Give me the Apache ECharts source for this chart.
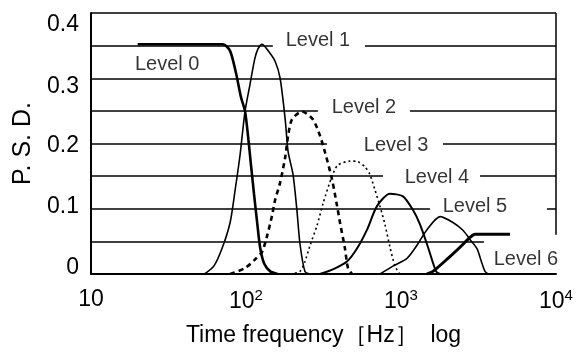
<!DOCTYPE html>
<html>
<head>
<meta charset="utf-8">
<script src="https://cdn.jsdelivr.net/npm/echarts@6/dist/echarts.min.js"></script>
<style>html,body{margin:0;padding:0;background:#fff}#c{width:577px;height:352px}</style>
</head>
<body>
<div id="c"></div>
<script>
// ---- data (frequency Hz, P.S.D.) ----
var level0 = [[20,0.352],[71,0.352],[78.9,0.342],[86.2,0.308],[92.8,0.271],[98.5,0.25],[103,0.212],[107.7,0.167],[112.6,0.123],[118,0.079],[123.3,0.041],[130.9,0.016],[143.4,0.004],[160,0]];
var level1 = [[54,0],[62,0.012],[70,0.039],[79,0.079],[85,0.128],[91.5,0.182],[98.5,0.249],[106,0.29],[114,0.33],[119.5,0.345],[127,0.352],[139,0.342],[154,0.326],[166,0.3],[179,0.237],[187,0.187],[201,0.153],[213,0.098],[223,0.046],[240,0.004],[259,0]];
var level2 = [[79,0],[98.5,0.009],[114,0.022],[127,0.034],[137,0.059],[147,0.089],[154,0.113],[166,0.14],[179,0.179],[187,0.212],[198,0.237],[230,0.249],[270,0.237],[300,0.212],[323,0.187],[359,0.145],[387,0.104],[404,0.079],[435,0.039],[455,0.009],[483,0]];
var level3 = [[192,0],[223,0.004],[240,0.019],[259,0.044],[287,0.074],[314,0.108],[359,0.15],[392,0.167],[469,0.173],[528,0.172],[586,0.164],[629,0.153],[677,0.13],[729,0.105],[788,0.076],[849,0.041],[915,0.012],[983,0]];
var level4 = [[300,0],[364,0.007],[448,0.019],[520,0.039],[604,0.068],[700,0.104],[849,0.123],[1030,0.119],[1195,0.098],[1326,0.076],[1494,0.041],[1683,0.004],[1786,0]];
var level5 = [[733,0],[887,0.012],[1093,0.024],[1268,0.044],[1471,0.068],[1786,0.088],[2163,0.079],[2510,0.067],[2786,0.053],[3092,0.039],[3333,0.016],[3484,0.004],[3640,0]];
var level6 = [[1471,0],[1607,0.004],[2010,0.024],[2403,0.041],[2786,0.056],[3000,0.061],[5050,0.061]];

var levelNames = ['Level 0','Level 1','Level 2','Level 3','Level 4','Level 5','Level 6'];
var labelFreq  = [31, 291, 577, 929, 1706, 2999, 6397];
var labelPsd   = [0.321, 0.358, 0.255, 0.197, 0.148, 0.104, 0.022];

// reference lines: [psd, fromHz, toHz]
var refLines = [
  [0.35, 10, 149], [0.35, 586, 10000],
  [0.30, 10, 10000],
  [0.25, 10, 291], [0.25, 1143, 10000],
  [0.20, 10, 333], [0.20, 1866, 10000],
  [0.15, 10, 765], [0.15, 3236, 10000],
  [0.10, 10, 1538], [0.10, 8750, 10000],
  [0.05, 10, 3428],
  [0.40, 10, 10000]
];
var rightBorder = [10000, 0.06, 0.40];

var xTicks = [10, 100, 1000, 10000];
var yTicks = [0, 0.1, 0.2, 0.3, 0.4];
var yTickText = ['0', '0.1', '0.2', '0.3', '0.4'];

var FONT = '"Liberation Sans", Arial, sans-serif';
var chart = echarts.init(document.getElementById('c'), null, {renderer: 'canvas'});

var markData = refLines.map(function (r) {
  return [{coord: [r[1], r[0]]}, {coord: [r[2], r[0]]}];
});
markData.push([{coord: [rightBorder[0], rightBorder[1]]}, {coord: [rightBorder[0], rightBorder[2]]}]);

// vertical nudges of the y tick labels (as in the scanned original)
var yShift = [-6, -2, 2, 8, 12];
var yRich = {};
yShift.forEach(function (d, i) {
  yRich['y' + i] = {
    fontSize: 23, fontFamily: FONT, color: '#000',
    padding: [d > 0 ? 2 * d : 0, 0, d < 0 ? -2 * d : 0, 0]
  };
});

function curve(data, width, type) {
  return {
    type: 'line', data: data, showSymbol: false, smooth: 0.25,
    lineStyle: {color: '#000', width: width, type: type},
    silent: true, z: 3
  };
}

var option = {
  animation: false,
  backgroundColor: '#fff',
  grid: {left: 91, right: 21, top: 13, bottom: 69, containLabel: false},
  xAxis: {
    type: 'log', logBase: 10, min: xTicks[0], max: xTicks[xTicks.length - 1],
    axisLine: {show: true, lineStyle: {color: '#000', width: 2}},
    axisTick: {show: false},
    splitLine: {show: false},
    minorTick: {show: false},
    axisLabel: {
      margin: 14,
      color: '#000',
      fontFamily: FONT,
      formatter: function (v) {
        var e = Math.round(Math.log(v) / Math.LN10);
        if (e === 1) return '{b|10}';
        return '{b|10}{s|' + e + '}';
      },
      rich: {
        b: {fontSize: 23, fontFamily: FONT, color: '#000'},
        s: {fontSize: 15, fontFamily: FONT, color: '#000', padding: [0, 0, 12, 0]}
      }
    },
    name: 'Time frequency\uFF3BHz\uFF3D  log',
    nameLocation: 'middle', nameGap: 50,
    nameTextStyle: {fontSize: 23, color: '#000', fontFamily: FONT}
  },
  yAxis: {
    type: 'value', min: yTicks[0], max: yTicks[yTicks.length - 1], interval: 0.1,
    axisLine: {show: true, lineStyle: {color: '#000', width: 2}},
    axisTick: {show: false},
    splitLine: {show: false},
    axisLabel: {
      margin: 12, color: '#000', fontSize: 23, fontFamily: FONT,
      formatter: function (v) {
        var i = Math.round(v * 10);
        return '{y' + i + '|' + yTickText[i] + '}';
      },
      rich: yRich
    },
    name: 'P. S. D.',
    nameLocation: 'middle', nameGap: 55, nameRotate: 90,
    nameTextStyle: {fontSize: 25, color: '#000', fontFamily: FONT}
  },
  series: [
    {
      type: 'line', data: [], silent: true,
      markLine: {
        silent: true, symbol: ['none', 'none'], animation: false,
        label: {show: false},
        lineStyle: {color: '#000', width: 1.5, type: 'solid'},
        emphasis: {disabled: true},
        data: markData
      }
    },
    curve(level0, 2.6, 'solid'),
    curve(level1, 1.6, 'solid'),
    curve(level2, 2.6, [5, 4]),
    curve(level3, 1.6, [2, 3]),
    curve(level4, 2, 'solid'),
    curve(level5, 1.6, 'solid'),
    curve(level6, 3, 'solid'),
    {
      type: 'scatter', silent: true, symbolSize: 1,
      itemStyle: {color: 'rgba(0,0,0,0)'},
      data: levelNames.map(function (n, i) { return {value: [labelFreq[i], labelPsd[i]], name: n}; }),
      label: {
        show: true, position: 'inside', color: '#000', fontFamily: FONT,
        fontSize: 20,
        formatter: function (p) { return p.name; }
      },
      z: 5
    }
  ]
};
chart.setOption(option);
</script>
</body>
</html>
